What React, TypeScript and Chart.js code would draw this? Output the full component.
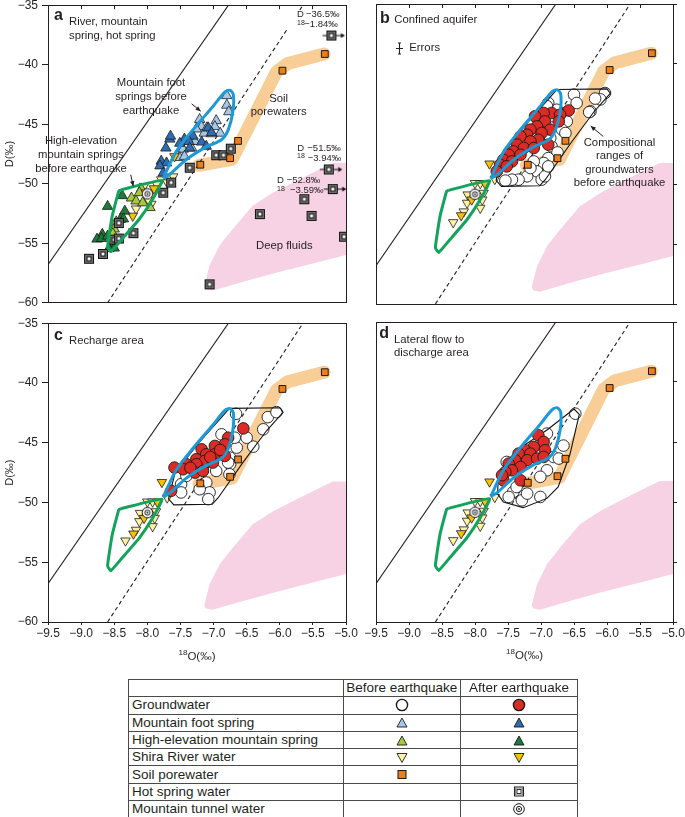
import React, { useEffect, useRef } from "react";
import { Chart, registerables } from "chart.js";

Chart.register(...registerables);

const FONT = '"Liberation Sans", Arial, Helvetica, sans-serif';
const INK = "#231f20";

// ---------------- axis ticks ----------------
const xTickValues = [-9.5, -9.0, -8.5, -8.0, -7.5, -7.0, -6.5, -6.0, -5.5, -5.0];
const yTickValues = [-60, -55, -50, -45, -40, -35];

// ---------------- reference lines ----------------
const meteoricSolidX = [-9.5, -6.775];
const meteoricSolidY = [-56.8, -35];
const meteoricDashX = [-8.6, -5.65];
const meteoricDashY = [-60, -35];

// ---------------- shaded fields / ranges ----------------
const deepFluidX = [-7.14, -7.06, -6.91, -6.71, -6.41, -6.1, -5.75, -5.4, -5.2, -4.9, -4.9, -5.5, -6.0, -6.5, -6.81, -7.02, -7.12];
const deepFluidY = [-58.6, -56.85, -55.18, -53.79, -51.85, -50.74, -49.76, -48.79, -48.24, -48.24, -55.85, -56.7, -57.4, -58.15, -58.65, -58.98, -58.85];

const soilBandX = [-7.22, -6.72, -6.05, -5.88, -5.33];
const soilBandY = [-48.45, -47.95, -40.6, -39.9, -39.1];

const mtnFootRangeX = [-7.76, -7.7, -7.56, -7.31, -7.01, -6.83, -6.75, -6.7, -6.71, -6.78, -6.88, -7.11, -7.41, -7.66, -7.76];
const mtnFootRangeY = [-49.55, -48.8, -47.26, -45.46, -43.51, -42.3, -42.15, -42.55, -44.0, -45.5, -46.3, -46.9, -47.96, -49.2, -49.55];

const highElevRangeX = [-8.4, -7.78, -7.92, -8.12, -8.38, -8.55, -8.6, -8.53, -8.43, -8.4];
const highElevRangeY = [-50.52, -49.72, -51.3, -52.96, -54.63, -55.7, -55.3, -52.7, -50.6, -50.52];

const gwRangeBCX = [-6.76, -6.0, -5.95, -6.2, -6.55, -6.93, -7.02, -7.6, -7.68, -7.58, -7.22, -6.76];
const gwRangeBCY = [-42.13, -42.07, -42.45, -44.0, -46.6, -49.6, -50.15, -50.2, -49.7, -47.5, -45.0, -42.13];

const gwRangeDX = [-6.5, -6.42, -6.56, -6.74, -6.91, -7.27, -7.57, -7.66, -7.64, -7.37, -6.91, -6.5];
const gwRangeDY = [-42.25, -42.7, -46.0, -48.75, -49.7, -50.47, -50.0, -49.3, -47.6, -45.7, -44.0, -42.25];

// ---------------- soil porewater ----------------
const soilX = [-7.2, -6.75, -6.63, -5.96, -5.32];
const soilY = [-48.4, -47.85, -46.4, -40.5, -39.1];

// ---------------- mountain tunnel water ----------------
const tunnelX = [-8.0];
const tunnelY = [-50.85];

// ---------------- panel a ----------------
const aFootBeforeX = [-6.8, -6.8, -6.77, -7.21, -6.96, -7.18, -6.98, -6.9, -7.26, -7.14, -7.03, -7.28, -7.46, -7.51, -7.44, -7.1, -7.33];
const aFootBeforeY = [-42.6, -43.4, -43.95, -44.6, -44.7, -45.2, -45.2, -45.75, -45.4, -45.75, -45.8, -46.45, -47.1, -47.8, -47.7, -45.3, -47.0];
const aFootAfterX = [-7.08, -7.03, -7.31, -7.44, -7.37, -7.36, -7.51, -7.66, -7.72, -7.79, -7.71, -7.65, -7.81, -7.76, -7.18, -7.11];
const aFootAfterY = [-45.3, -45.7, -46.0, -46.25, -46.45, -47.0, -46.6, -46.25, -47.0, -48.1, -48.25, -46.0, -48.5, -49.1, -46.5, -46.85];
const aHighBeforeX = [-8.24, -8.17, -8.47, -8.5, -8.52, -7.96, -8.09, -8.07, -8.12];
const aHighBeforeY = [-51.2, -51.45, -53.2, -53.8, -54.2, -52.0, -50.45, -51.6, -50.75];
const aHighAfterX = [-8.6, -8.38, -8.34, -8.41, -8.68, -8.76, -8.69, -8.6, -8.54, -8.5, -8.58, -8.36];
const aHighAfterY = [-51.9, -51.0, -52.3, -53.0, -54.25, -54.65, -54.6, -54.4, -55.25, -55.4, -55.45, -52.95];
const aRiverBeforeX = [-7.61, -7.79, -7.86, -7.94, -7.99, -7.91, -8.17, -7.7, -8.05];
const aRiverBeforeY = [-49.4, -49.65, -50.05, -51.7, -51.3, -50.85, -52.1, -49.9, -50.2];
const aRiverAfterX = [-7.59, -8.02, -8.22, -7.9];
const aRiverAfterY = [-47.7, -50.75, -52.7, -50.4];
const aHotSpringX = [-8.88, -8.67, -8.5, -8.43, -8.21, -8.43, -7.76, -7.64, -7.36, -6.96, -6.85, -6.74, -5.63, -5.52, -6.3, -5.03, -7.06];
const aHotSpringY = [-56.3, -55.9, -54.7, -54.6, -54.15, -53.3, -50.75, -49.9, -48.65, -47.6, -47.6, -47.05, -51.3, -52.7, -52.55, -54.45, -58.45];
const aHotOffScaleX = [-5.22, -5.26, -5.2];
const aHotOffScaleY = [-37.55, -48.8, -50.45];

// ---------------- Shira River water (panels b, c, d) ----------------
const riverBeforeX = [-8.0, -7.92, -7.87, -8.11, -8.12, -7.89, -7.92, -8.33, -7.7, -8.17];
const riverBeforeY = [-49.94, -49.94, -50.75, -50.89, -51.58, -51.31, -52.0, -53.2, -49.6, -52.3];
const riverAfterX = [-7.78, -7.85, -8.05, -8.21];
const riverAfterY = [-48.31, -49.94, -51.31, -52.62];

// ---------------- groundwater ----------------
const bGwBeforeX = [-6.5, -6.03, -6.1, -6.25, -6.46, -6.61, -6.68, -6.63, -6.81, -6.84, -6.75, -6.89, -6.96, -7.11, -7.06, -7.21, -7.34, -7.44, -7.54, -6.99, -6.94, -7.16, -6.89, -6.86, -7.01, -6.76, -6.89, -6.18, -6.27, -6.91];
const bGwBeforeY = [-42.55, -42.42, -42.95, -43.95, -43.25, -44.78, -45.48, -45.75, -44.36, -46.86, -47.37, -47.84, -48.25, -48.12, -48.95, -49.36, -49.64, -49.64, -49.72, -49.64, -49.36, -48.67, -48.53, -46.17, -45.61, -43.81, -43.25, -42.88, -44.01, -43.51];
const bGwAfterX = [-6.58, -6.84, -6.96, -6.71, -7.09, -6.94, -7.06, -7.16, -6.86, -6.99, -7.21, -7.31, -7.04, -7.16, -7.36, -7.26, -7.11, -7.42, -7.49, -7.31, -7.57, -7.44, -7.62, -7.52, -7.67, -6.73, -6.89];
const bGwAfterY = [-43.87, -44.08, -44.08, -44.22, -44.36, -44.78, -45.2, -45.47, -45.47, -45.75, -45.89, -46.03, -46.31, -46.45, -46.72, -47.0, -47.0, -47.28, -47.56, -47.56, -47.98, -48.12, -48.39, -48.53, -48.95, -44.78, -46.72];

const cGwBeforeX = [-6.66, -6.18, -6.05, -6.25, -6.4, -6.5, -6.65, -6.68, -6.88, -6.75, -6.75, -6.76, -6.96, -7.11, -7.06, -7.08, -7.21, -7.49, -7.41, -6.78, -7.49];
const cGwBeforeY = [-42.58, -42.86, -42.44, -43.88, -45.33, -44.58, -45.41, -44.58, -44.3, -46.25, -46.8, -47.64, -47.36, -48.33, -49.16, -49.72, -48.89, -48.47, -47.78, -46.66, -49.16];
const cGwAfterX = [-6.55, -6.78, -6.83, -6.98, -7.18, -7.11, -6.98, -6.83, -7.26, -7.13, -7.01, -7.41, -7.26, -7.59, -7.46, -7.28, -7.16, -7.64, -7.05, -6.9, -7.35];
const cGwAfterY = [-43.8, -44.58, -45.13, -45.27, -45.55, -45.97, -45.97, -46.11, -46.38, -46.52, -46.66, -46.8, -46.8, -47.08, -47.22, -47.5, -47.36, -49.02, -46.2, -45.6, -47.1];

const dGwBeforeX = [-6.48, -6.91, -6.81, -6.91, -6.73, -7.01, -7.01, -7.29, -7.42, -7.49, -7.21, -7.37, -7.52, -6.66];
const dGwBeforeY = [-42.64, -44.3, -46.25, -47.36, -46.38, -47.9, -49.58, -49.86, -49.16, -49.58, -49.3, -48.75, -46.66, -45.3];
const dGwAfterX = [-7.04, -6.96, -7.11, -7.24, -6.94, -7.34, -7.16, -7.21, -7.06, -6.96, -7.39, -7.49, -7.31, -7.44, -7.54, -7.31, -7.57, -7.59];
const dGwAfterY = [-44.44, -44.99, -45.41, -45.69, -45.69, -45.97, -45.97, -46.52, -46.38, -46.25, -46.52, -46.8, -47.08, -47.36, -47.5, -48.19, -48.19, -47.77];

// ---------------- legend table ----------------
const legendHeaders = ["Before earthquake", "After earthquake"];
const legendRows = [
  "Groundwater",
  "Mountain foot spring",
  "High-elevation mountain spring",
  "Shira River water",
  "Soil porewater",
  "Hot spring water",
  "Mountain tunnel water",
];
const legendSymbols = [
  ["gwBefore", "gwAfter"],
  ["footBefore", "footAfter"],
  ["highBefore", "highAfter"],
  ["riverBefore", "riverAfter"],
  ["soil", null],
  [null, "hot"],
  [null, "tunnel"],
];

const COL = {
  gwAfter: "#dc2b25",
  gwBefore: "#ffffff",
  footBefore: "#a7c7e7",
  footAfter: "#2f6db3",
  highBefore: "#a5c939",
  highAfter: "#1d7a3b",
  riverBefore: "#fff2a3",
  riverAfter: "#f3c300",
  soil: "#ef7d1a",
  band: "#f9cd96",
  pink: "#f7d1e4",
  blue: "#1d9ad6",
  green: "#13a35c",
};

// ---------------- panel layout ----------------
const PANELS = [
  { id: "a", plotLeft: 48, plotTop: 4, plotW: 298, yLabels: true, xLabels: false, rightTicks: false, topTicks: true },
  { id: "b", plotLeft: 376, plotTop: 4, plotW: 297, yLabels: false, xLabels: false, rightTicks: true, topTicks: true },
  { id: "c", plotLeft: 48, plotTop: 322, plotW: 298, yLabels: true, xLabels: true, rightTicks: false, topTicks: false },
  { id: "d", plotLeft: 376, plotTop: 322, plotW: 297, yLabels: false, xLabels: true, rightTicks: true, topTicks: false },
];
const PLOT_H = 300;
const PAD_T = 10;
const PAD_R = 14;

function geom(p) {
  const padL = p.yLabels ? 0 : 18;
  const yW = p.yLabels ? p.plotLeft : 0;
  const rW = p.rightTicks ? 5 : 0;
  const bH = p.xLabels ? 44 : 0;
  const padB = p.xLabels ? 2 : 10;
  return {
    padL, yW, rW, bH, padB,
    left: p.plotLeft - padL - yW,
    top: p.plotTop - PAD_T,
    width: padL + yW + p.plotW + rW + PAD_R,
    height: PAD_T + PLOT_H + bH + padB,
  };
}

// ---------------- helpers ----------------
const pts = (xs, ys) => xs.map((x, i) => ({ x, y: ys[i] }));
const fmtX = (v) => (v < 0 ? "\u2212" : "") + Math.abs(v).toFixed(1);
const fmtY = (v) => (v < 0 ? "\u2212" : "") + Math.abs(v);

function path(xs, ys, opt) {
  return { data: pts(xs, ys), showLine: true, pointRadius: 0, fill: false, ...opt };
}
function markers(xs, ys, style, fill, opt) {
  return {
    data: pts(xs, ys),
    showLine: false,
    pointStyle: style,
    pointRadius: 5.3,
    backgroundColor: fill,
    borderColor: "#1a1a1a",
    borderWidth: 0.8,
    ...opt,
  };
}

function makeHotSpring(withArrow) {
  const c = document.createElement("canvas");
  const w = withArrow ? 30 : 12;
  c.width = w;
  c.height = 12;
  const g = c.getContext("2d");
  const cx = w / 2;
  const cy = 6;
  g.fillStyle = "#707070";
  g.fillRect(cx - 4.5, cy - 4.5, 9, 9);
  g.strokeStyle = "#111";
  g.lineWidth = 1;
  g.strokeRect(cx - 4.5, cy - 4.5, 9, 9);
  g.fillStyle = "#fff";
  g.fillRect(cx - 2, cy - 2, 4, 4);
  g.strokeRect(cx - 2, cy - 2, 4, 4);
  if (withArrow) {
    g.beginPath();
    g.moveTo(cx - 9, cy);
    g.lineTo(cx - 4.5, cy);
    g.moveTo(cx + 4.5, cy);
    g.lineTo(cx + 10, cy);
    g.stroke();
    g.beginPath();
    g.moveTo(cx + 13.5, cy);
    g.lineTo(cx + 9.5, cy - 2.5);
    g.lineTo(cx + 9.5, cy + 2.5);
    g.closePath();
    g.fillStyle = "#111";
    g.fill();
  }
  return c;
}
function makeTunnel() {
  const c = document.createElement("canvas");
  c.width = 13;
  c.height = 13;
  const g = c.getContext("2d");
  g.beginPath();
  g.arc(6.5, 6.5, 5.2, 0, Math.PI * 2);
  g.fillStyle = "#fff";
  g.fill();
  g.strokeStyle = "#111";
  g.lineWidth = 1;
  g.stroke();
  g.beginPath();
  g.arc(6.5, 6.5, 2.6, 0, Math.PI * 2);
  g.stroke();
  g.beginPath();
  g.arc(6.5, 6.5, 0.9, 0, Math.PI * 2);
  g.fillStyle = "#111";
  g.fill();
  return c;
}

function commonLayers(tunnelImg) {
  return [
    path(deepFluidX, deepFluidY, { fill: "shape", backgroundColor: COL.pink, borderColor: COL.pink, borderWidth: 0, order: 10, clip: 0 }),
    path(soilBandX, soilBandY, { borderColor: COL.band, borderWidth: 13, borderCapStyle: "round", borderJoinStyle: "round", order: 9 }),
    path(meteoricSolidX, meteoricSolidY, { borderColor: INK, borderWidth: 1.1, order: 8, clip: 0 }),
    path(meteoricDashX, meteoricDashY, { borderColor: INK, borderWidth: 1.1, borderDash: [4, 3], order: 8, clip: 0 }),
    path(mtnFootRangeX, mtnFootRangeY, { borderColor: COL.blue, borderWidth: 3, tension: 0.3, borderJoinStyle: "round", order: 1 }),
    path(highElevRangeX, highElevRangeY, { borderColor: COL.green, borderWidth: 3, tension: 0.12, borderJoinStyle: "round", order: 1 }),
    markers(soilX, soilY, "rect", COL.soil, { pointRadius: 4.8, borderWidth: 1, order: 2 }),
    markers(tunnelX, tunnelY, tunnelImg, "#fff", { pointRadius: 6, order: 0 }),
  ];
}

function panelDatasets(id, imgs) {
  const ds = commonLayers(imgs.tunnel);
  if (id === "a") {
    ds.push(
      markers(aFootBeforeX, aFootBeforeY, "triangle", COL.footBefore, { pointRadius: 6, order: 4 }),
      markers(aHighBeforeX, aHighBeforeY, "triangle", COL.highBefore, { pointRadius: 6, order: 4 }),
      markers(aRiverBeforeX, aRiverBeforeY, "triangle", COL.riverBefore, { pointRadius: 5.5, rotation: 180, order: 4 }),
      markers(aFootAfterX, aFootAfterY, "triangle", COL.footAfter, { pointRadius: 6, order: 3 }),
      markers(aHighAfterX, aHighAfterY, "triangle", COL.highAfter, { pointRadius: 6, order: 3 }),
      markers(aRiverAfterX, aRiverAfterY, "triangle", COL.riverAfter, { pointRadius: 5.5, rotation: 180, order: 3 }),
      markers(aHotSpringX, aHotSpringY, imgs.hot, "#777", { pointRadius: 6, order: 2, clip: 0 }),
      markers(aHotOffScaleX, aHotOffScaleY, imgs.hotArrow, "#777", { pointRadius: 6, order: 2 })
    );
  } else {
    const range = id === "d" ? [gwRangeDX, gwRangeDY] : [gwRangeBCX, gwRangeBCY];
    const gw =
      id === "b"
        ? [bGwBeforeX, bGwBeforeY, bGwAfterX, bGwAfterY]
        : id === "c"
        ? [cGwBeforeX, cGwBeforeY, cGwAfterX, cGwAfterY]
        : [dGwBeforeX, dGwBeforeY, dGwAfterX, dGwAfterY];
    ds.push(
      path(range[0], range[1], { borderColor: "#111", borderWidth: 1.1, order: 3 }),
      markers(gw[0], gw[1], "circle", COL.gwBefore, { pointRadius: 5.8, borderWidth: 0.9, order: 4 }),
      markers(gw[2], gw[3], "circle", COL.gwAfter, { pointRadius: 5.8, borderWidth: 0.9, order: 2 }),
      markers(riverBeforeX, riverBeforeY, "triangle", COL.riverBefore, { pointRadius: 5.5, rotation: 180, order: 3 }),
      markers(riverAfterX, riverAfterY, "triangle", COL.riverAfter, { pointRadius: 5.5, rotation: 180, order: 2 })
    );
  }
  return ds;
}

// ---------------- annotation drawing ----------------
const NOTE = `11.3px ${FONT}`;
const SMALL = `9.5px ${FONT}`;
const TINY = `7px ${FONT}`;
const BOLD = `bold 16px ${FONT}`;

function label(ctx, s, x, y, align = "left", font = NOTE, base = "middle") {
  ctx.font = font;
  ctx.fillStyle = INK;
  ctx.textAlign = align;
  ctx.textBaseline = base;
  ctx.fillText(s, x, y);
}
function arrow(ctx, x1, y1, x2, y2) {
  ctx.strokeStyle = INK;
  ctx.fillStyle = INK;
  ctx.lineWidth = 1;
  ctx.beginPath();
  ctx.moveTo(x1, y1);
  ctx.lineTo(x2, y2);
  ctx.stroke();
  const a = Math.atan2(y2 - y1, x2 - x1);
  const h = 5.5;
  ctx.beginPath();
  ctx.moveTo(x2, y2);
  ctx.lineTo(x2 - h * Math.cos(a - 0.42), y2 - h * Math.sin(a - 0.42));
  ctx.lineTo(x2 - h * Math.cos(a + 0.42), y2 - h * Math.sin(a + 0.42));
  ctx.closePath();
  ctx.fill();
}

function drawNotes(id, ctx, L, T, W) {
  if (id === "a") {
    label(ctx, "a", L + 6, T + 14.3, "left", BOLD, "alphabetic");
    label(ctx, "River, mountain", L + 21, T + 16.7);
    label(ctx, "spring, hot spring", L + 21, T + 31);
    ["Mountain foot", "springs before", "earthquake"].forEach((s, i) => label(ctx, s, L + 103, T + 78 + 14 * i, "center"));
    arrow(ctx, L + 143.7, T + 98.7, L + 152.7, T + 106);
    ["High-elevation", "mountain springs", "before earthquake"].forEach((s, i) => label(ctx, s, L + 33, T + 136 + 13.9 * i, "center"));
    arrow(ctx, L + 82.7, T + 169.5, L + 85.3, T + 181);
    label(ctx, "Soil", L + 230.7, T + 93.3, "center");
    label(ctx, "porewaters", L + 230.7, T + 107, "center");
    label(ctx, "Deep fluids", L + 236.3, T + 241, "center");
    label(ctx, "D", L + 249, T + 9.5, "left", SMALL);
    label(ctx, "\u221236.5\u2030", L + 258, T + 9.5, "left", SMALL);
    label(ctx, "18", L + 249, T + 18, "left", TINY);
    label(ctx, "\u22121.84\u2030", L + 256.3, T + 19.3, "left", SMALL);
    label(ctx, "D", L + 249.3, T + 142.7, "left", SMALL);
    label(ctx, "\u221251.5\u2030", L + 259.3, T + 142.7, "left", SMALL);
    label(ctx, "18", L + 249, T + 151.3, "left", TINY);
    label(ctx, "\u22123.94\u2030", L + 259.7, T + 152.7, "left", SMALL);
    label(ctx, "D", L + 229, T + 175, "left", SMALL);
    label(ctx, "\u221252.8\u2030", L + 238.7, T + 175, "left", SMALL);
    label(ctx, "18", L + 229, T + 183.7, "left", TINY);
    label(ctx, "\u22123.59\u2030", L + 242, T + 185, "left", SMALL);
  } else if (id === "b") {
    label(ctx, "b", L + 4, T + 19.3, "left", BOLD, "alphabetic");
    label(ctx, "Confined aquifer", L + 18.3, T + 16);
    ctx.strokeStyle = INK;
    ctx.lineWidth = 1.1;
    ctx.beginPath();
    const ex = L + 23.5;
    const ey = T + 44.5;
    ctx.moveTo(ex, ey - 5.5);
    ctx.lineTo(ex, ey + 5.5);
    ctx.moveTo(ex - 3.5, ey);
    ctx.lineTo(ex + 3.5, ey);
    ctx.moveTo(ex - 1.5, ey - 5.5);
    ctx.lineTo(ex + 1.5, ey - 5.5);
    ctx.moveTo(ex - 1.5, ey + 5.5);
    ctx.lineTo(ex + 1.5, ey + 5.5);
    ctx.stroke();
    label(ctx, "Errors", L + 33.3, T + 44);
    ["Compositional", "ranges of", "groundwaters", "before earthquake"].forEach((s, i) =>
      label(ctx, s, L + 243.5, T + 138.7 + 13.55 * i, "center")
    );
    arrow(ctx, L + 227.3, T + 132.5, L + 214.7, T + 122);
  } else if (id === "c") {
    label(ctx, "c", L + 6, T + 17, "left", BOLD, "alphabetic");
    label(ctx, "Recharge area", L + 21, T + 18);
  } else {
    label(ctx, "d", L + 3.3, T + 16.3, "left", BOLD, "alphabetic");
    label(ctx, "Lateral flow to", L + 18, T + 18);
    label(ctx, "discharge area", L + 18, T + 31.3);
  }
  if (id === "c" || id === "d") {
    const cx = L + W / 2;
    const y = T + 334;
    const f1 = `8px ${FONT}`;
    const f2 = `11.5px ${FONT}`;
    ctx.font = f1;
    const w1 = ctx.measureText("18").width;
    ctx.font = f2;
    const w2 = ctx.measureText("O(\u2030)").width;
    const x0 = cx - (w1 + w2) / 2;
    label(ctx, "18", x0, y - 4, "left", f1);
    label(ctx, "O(\u2030)", x0 + w1, y, "left", f2);
  }
}

function notesPlugin(id) {
  return {
    id: "panelNotes" + id,
    afterDatasetsDraw(chart) {
      if (id !== "a") return;
      const { ctx, chartArea } = chart;
      ctx.save();
      ctx.fillStyle = "#fff";
      ctx.fillRect(chartArea.left + 236, chartArea.top + 5, 62, 19);
      ctx.restore();
    },
    afterDraw(chart) {
      const { ctx, chartArea } = chart;
      ctx.save();
      drawNotes(id, ctx, chartArea.left, chartArea.top, chartArea.right - chartArea.left);
      ctx.restore();
    },
  };
}

function buildConfig(p, imgs) {
  const g = geom(p);
  const setX = (s) => {
    s.ticks = xTickValues.map((value) => ({ value }));
  };
  const setY = (s) => {
    s.ticks = yTickValues.map((value) => ({ value }));
  };
  const border = { display: true, color: INK, width: 1, z: 1 };
  return {
    type: "scatter",
    data: { datasets: panelDatasets(p.id, imgs) },
    options: {
      animation: false,
      responsive: false,
      events: [],
      layout: { padding: { left: g.padL, right: PAD_R, top: PAD_T, bottom: g.padB } },
      plugins: { legend: { display: false }, tooltip: { enabled: false } },
      scales: {
        x: {
          type: "linear",
          position: "bottom",
          min: -9.5,
          max: -5,
          afterBuildTicks: setX,
          afterFit: (s) => {
            s.height = g.bH;
          },
          ticks: {
            display: p.xLabels,
            color: INK,
            font: { family: FONT, size: 12 },
            padding: 1,
            maxRotation: 0,
            autoSkip: false,
            callback: (v) => fmtX(Number(v)),
          },
          grid: { display: p.xLabels, drawOnChartArea: false, drawTicks: p.xLabels, tickLength: 3, color: INK },
          border,
        },
        xTop: {
          axis: "x",
          type: "linear",
          position: "top",
          min: -9.5,
          max: -5,
          afterBuildTicks: setX,
          afterFit: (s) => {
            s.height = 0;
          },
          ticks: { display: false },
          grid: { display: p.topTicks, drawOnChartArea: false, drawTicks: true, tickLength: -4, color: INK },
          border,
        },
        y: {
          type: "linear",
          position: "left",
          min: -60,
          max: -35,
          afterBuildTicks: setY,
          afterFit: (s) => {
            s.width = g.yW;
          },
          ticks: {
            display: p.yLabels,
            color: INK,
            font: { family: FONT, size: 12 },
            padding: 4,
            autoSkip: false,
            callback: (v) => fmtY(Number(v)),
          },
          grid: { display: p.yLabels, drawOnChartArea: false, drawTicks: p.yLabels, tickLength: 6, color: INK },
          border,
          title: {
            display: p.yLabels,
            text: "D(\u2030)",
            color: INK,
            font: { family: FONT, size: 11 },
            padding: { top: 3, bottom: 0 },
          },
        },
        yRight: {
          axis: "y",
          type: "linear",
          position: "right",
          min: -60,
          max: -35,
          afterBuildTicks: setY,
          afterFit: (s) => {
            s.width = g.rW;
          },
          ticks: { display: false },
          grid: { display: p.rightTicks, drawOnChartArea: false, drawTicks: true, tickLength: 4, color: INK },
          border,
        },
      },
    },
    plugins: [notesPlugin(p.id)],
  };
}

// ---------------- legend symbols ----------------
function Sym({ k }) {
  const st = { display: "block", margin: "0 auto" };
  const sw = "#1a1a1a";
  if (!k) return null;
  if (k === "gwBefore" || k === "gwAfter")
    return (
      <svg width="14" height="14" style={st}>
        <circle cx="7" cy="7" r="5.6" fill={k === "gwBefore" ? "#fff" : COL.gwAfter} stroke={sw} strokeWidth="1.4" />
      </svg>
    );
  if (k === "footBefore" || k === "footAfter" || k === "highBefore" || k === "highAfter")
    return (
      <svg width="14" height="13" style={st}>
        <polygon points="7,2 12,11 2,11" fill={COL[k]} stroke={sw} strokeWidth="0.9" />
      </svg>
    );
  if (k === "riverBefore" || k === "riverAfter")
    return (
      <svg width="14" height="13" style={st}>
        <polygon points="2,2.5 12,2.5 7,11.5" fill={COL[k]} stroke={sw} strokeWidth="0.9" />
      </svg>
    );
  if (k === "soil")
    return (
      <svg width="14" height="13" style={st}>
        <rect x="3" y="2.5" width="8" height="8" fill={COL.soil} stroke={sw} strokeWidth="1" />
      </svg>
    );
  if (k === "hot")
    return (
      <svg width="14" height="13" style={st}>
        <rect x="2.5" y="2" width="9" height="9" fill="#fff" stroke={sw} strokeWidth="1" />
        <rect x="3.5" y="3" width="7" height="7" fill="none" stroke="#888" strokeWidth="1.2" />
        <rect x="5" y="4.5" width="4" height="4" fill="#fff" stroke={sw} strokeWidth="0.9" />
      </svg>
    );
  return (
    <svg width="14" height="14" style={st}>
      <circle cx="7" cy="7" r="5.3" fill="#fff" stroke={sw} strokeWidth="1" />
      <circle cx="7" cy="7" r="2.6" fill="none" stroke={sw} strokeWidth="1" />
      <circle cx="7" cy="7" r="0.9" fill={sw} />
    </svg>
  );
}

function LegendTable() {
  const cell = {
    border: "1px solid #4a4a4a",
    padding: 0,
    height: 16.3,
    lineHeight: "16px",
    fontSize: 13.5,
    color: INK,
    whiteSpace: "nowrap",
    overflow: "hidden",
  };
  return (
    <table
      style={{
        position: "absolute",
        left: 128,
        top: 679,
        width: 449,
        borderCollapse: "collapse",
        tableLayout: "fixed",
        fontFamily: FONT,
      }}
    >
      <colgroup>
        <col style={{ width: 214.5 }} />
        <col style={{ width: 117.5 }} />
        <col style={{ width: 117 }} />
      </colgroup>
      <tbody>
        <tr>
          <td style={cell}></td>
          {legendHeaders.map((h) => (
            <td key={h} style={{ ...cell, textAlign: "center" }}>
              {h}
            </td>
          ))}
        </tr>
        {legendRows.map((r, i) => (
          <tr key={r}>
            <td style={{ ...cell, paddingLeft: 3 }}>{r}</td>
            <td style={cell}>
              <Sym k={legendSymbols[i][0]} />
            </td>
            <td style={cell}>
              <Sym k={legendSymbols[i][1]} />
            </td>
          </tr>
        ))}
      </tbody>
    </table>
  );
}

export default function App() {
  const r0 = useRef(null);
  const r1 = useRef(null);
  const r2 = useRef(null);
  const r3 = useRef(null);
  const refs = [r0, r1, r2, r3];

  useEffect(() => {
    const imgs = { hot: makeHotSpring(false), hotArrow: makeHotSpring(true), tunnel: makeTunnel() };
    const charts = PANELS.map((p, i) => new Chart(refs[i].current, buildConfig(p, imgs)));
    return () => charts.forEach((c) => c.destroy());
  }, []);

  return (
    <div
      style={{
        position: "absolute",
        left: 0,
        top: 0,
        width: 685,
        height: 817,
        overflow: "hidden",
        background: "#fff",
        fontFamily: FONT,
      }}
    >
      {PANELS.map((p, i) => {
        const g = geom(p);
        return (
          <canvas
            key={p.id}
            ref={refs[i]}
            width={g.width}
            height={g.height}
            style={{ position: "absolute", left: g.left, top: g.top, width: g.width, height: g.height }}
          />
        );
      })}
      <LegendTable />
    </div>
  );
}
